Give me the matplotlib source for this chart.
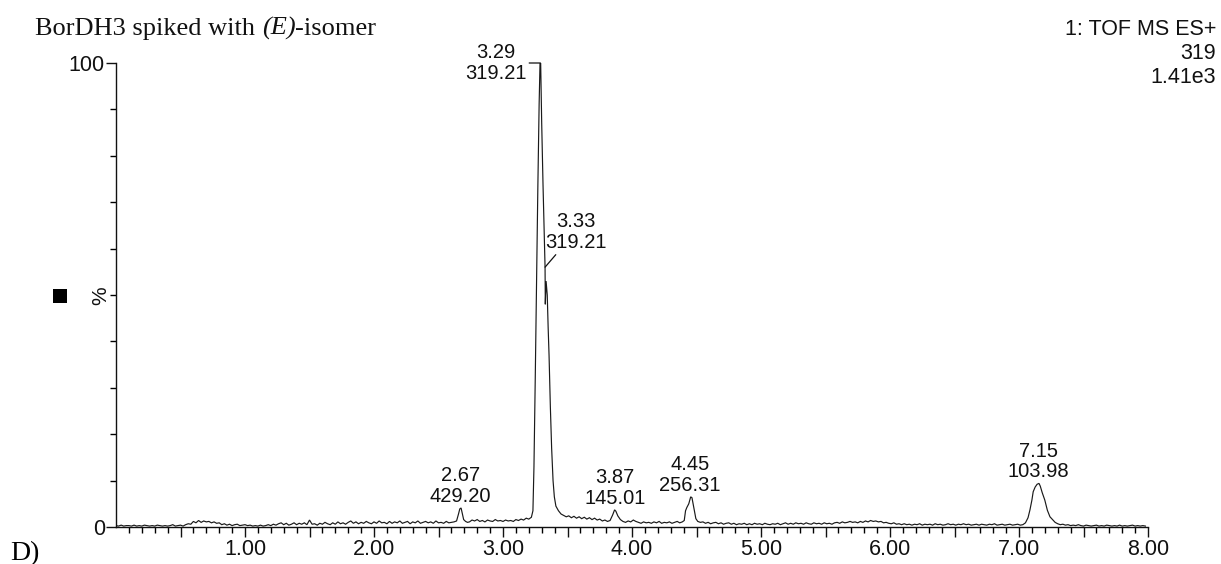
import numpy as np
import matplotlib
matplotlib.use('Agg')
import matplotlib.pyplot as plt
from matplotlib.ticker import FixedLocator, FixedFormatter, NullFormatter
from matplotlib.patches import Rectangle

plt.rcParams['font.family'] = ['Liberation Sans', 'DejaVu Sans']

# ---------------- data (retention time in min, relative intensity in %) -------------
base_A_start = 0.00
base_A = [0.3, 0.2, 0.4, 0.2, 0.3, 0.3, 0.2, 0.4, 0.2, 0.3,
          0.2, 0.4, 0.3, 0.2, 0.3, 0.2, 0.4, 0.3, 0.2, 0.3,
          0.2, 0.3, 0.5, 0.2, 0.3, 0.4, 0.2, 0.5, 0.7, 0.6,
          1.2, 0.9, 1.4, 1.0, 1.3, 1.1, 1.2, 0.9, 1.1, 0.8,
          0.9, 0.5, 0.7, 0.4, 0.6, 0.3, 0.5, 0.6, 0.3, 0.4,
          0.5, 0.3, 0.4, 0.2, 0.3, 0.2, 0.4, 0.2, 0.3, 0.5,
          0.3, 0.6, 0.4, 0.7, 0.9, 0.5, 0.8, 0.4, 0.6, 0.9,
          0.5, 0.8, 0.6, 0.9, 0.5, 1.5, 0.6, 0.7, 0.4, 0.8,
          0.6, 1.0, 0.7, 0.5, 0.9, 0.6, 1.1, 0.7, 0.9, 0.6,
          1.0, 1.3, 0.8, 1.1, 0.7, 1.0, 0.8, 1.2, 0.9, 0.7,
          1.1, 0.8, 1.3, 0.9, 1.0, 0.7, 1.2, 0.8, 1.1, 0.9,
          1.3, 0.8, 1.0, 1.2, 0.7, 1.1, 0.9, 1.3, 0.8, 1.0,
          1.2, 0.9, 1.1, 0.8, 1.3, 0.9, 1.0, 0.8, 1.2, 0.9,
          1.0, 1.1]
base_B_start = 2.74
base_B = [1.1, 1.5, 1.3, 1.6, 1.2, 1.4, 1.1, 1.5, 1.3, 1.2, 1.6, 1.3, 1.4,
          1.2, 1.5, 1.3, 1.4, 1.2, 1.6, 1.4, 1.7, 1.5, 1.9, 1.7, 2.1]
base_C_start = 3.47
base_C = [2.5, 2.2, 2.4, 2.0, 2.3, 1.9, 2.2, 1.8, 2.1, 1.7, 2.0, 1.6, 1.9,
          1.5, 1.7, 1.3, 1.5, 1.2, 1.4]
base_D_start = 3.93
base_D = [1.2, 1.0, 1.3, 1.1, 1.5, 1.2, 1.0, 0.8, 1.1, 0.9, 1.0, 0.8,
          1.1, 0.9, 1.2, 0.8, 1.0, 0.9, 1.1, 0.8, 1.0, 1.2, 0.9, 1.1]
base_E_start = 4.51
base_E = [1.2, 1.0, 1.1, 0.8, 1.0, 0.7, 0.9, 1.0, 0.7, 0.9,
          0.6, 0.8, 0.9, 0.6, 0.8, 0.5, 0.7, 0.6, 0.8, 0.5,
          0.7, 0.5, 0.8, 0.6, 0.7, 0.5, 0.8, 0.6, 0.5, 0.7,
          0.6, 0.8, 0.5, 0.7, 0.9, 0.6, 0.8, 0.6, 0.9, 0.7,
          0.8, 0.6, 0.9, 0.7, 0.6, 0.9, 0.7, 0.8, 0.6, 0.9,
          0.7, 0.8, 0.6, 0.9, 1.0, 0.8, 1.1, 0.9, 1.0, 1.2,
          1.0, 1.1, 0.9, 1.2, 1.0, 1.3, 1.1, 1.4, 1.2, 1.3,
          1.1, 1.2, 0.9, 1.0, 0.8, 0.7, 0.9, 0.6, 0.7, 0.5,
          0.7, 0.5, 0.6, 0.4, 0.6, 0.5, 0.7, 0.4, 0.6, 0.5,
          0.6, 0.4, 0.7, 0.5, 0.6, 0.4, 0.5, 0.7, 0.5, 0.6,
          0.4, 0.6, 0.5, 0.7, 0.5, 0.6, 0.4, 0.5, 0.6, 0.4,
          0.6, 0.5, 0.4, 0.6, 0.5, 0.7, 0.4, 0.5, 0.6, 0.4,
          0.5, 0.6, 0.4, 0.5, 0.6, 0.4, 0.5]
base_F_start = 7.30
base_F = [0.7, 0.5, 0.6, 0.4, 0.5, 0.3, 0.4, 0.3, 0.5, 0.3,
          0.2, 0.4, 0.3, 0.2, 0.3, 0.4, 0.2, 0.3, 0.2, 0.4,
          0.3, 0.2, 0.3, 0.2, 0.4, 0.2, 0.3, 0.2, 0.3, 0.4,
          0.2, 0.3, 0.2, 0.3, 0.2]
base_step = 0.02

# peaks, sampled more finely
pk267_t = [2.64, 2.655, 2.665, 2.675, 2.685, 2.695, 2.71, 2.725]
pk267_v = [1.3, 2.8, 3.9, 4.1, 2.8, 1.6, 1.2, 1.0]
pk329_t = [3.232, 3.24, 3.25, 3.26, 3.27, 3.28, 3.287, 3.292, 3.30, 3.31, 3.32,
           3.326, 3.328, 3.334, 3.343, 3.35, 3.357, 3.367, 3.377, 3.388, 3.398,
           3.41, 3.43, 3.45]
pk329_v = [3.5, 13, 32, 53, 73, 91, 100, 100, 87, 74, 63,
           56, 48, 53, 50, 43, 37, 26, 17, 10, 6.5,
           4.5, 3.5, 2.8]
pk387_t = [3.85, 3.865, 3.875, 3.89, 3.91]
pk387_v = [2.6, 3.7, 3.4, 2.4, 1.6]
pk445_t = [4.405, 4.415, 4.425, 4.44, 4.455, 4.465, 4.48, 4.495]
pk445_v = [1.4, 3.5, 4.2, 5.0, 6.5, 6.3, 4.0, 1.8]
pk715_t = [7.05, 7.07, 7.085, 7.10, 7.11, 7.125, 7.14, 7.155, 7.165, 7.18,
           7.20, 7.22, 7.24, 7.26, 7.28]
pk715_v = [0.9, 2.0, 3.7, 5.8, 7.6, 8.6, 9.2, 9.4, 8.8, 7.4,
           5.8, 3.6, 2.2, 1.6, 1.0]

peak_rt = ['2.67', '3.87', '4.45', '7.15']
peak_mz = ['429.20', '145.01', '256.31', '103.98']
main_rt, main_mz = '3.29', '319.21'
shoulder_rt, shoulder_mz = '3.33', '319.21'
shoulder_pos = 3.326

x_major = [0.5, 1.0, 1.5, 2.0, 2.5, 3.0, 3.5, 4.0, 4.5, 5.0, 5.5, 6.0, 6.5, 7.0, 7.5, 8.0]
x_labels = ['', '1.00', '', '2.00', '', '3.00', '', '4.00', '', '5.00', '', '6.00', '', '7.00', '', '8.00']
y_major = [0, 100]
y_labels = ['0', '100']

title_parts = [('BorDH3 spiked with ', 'normal'), ('(E)', 'italic'), ('-isomer', 'normal')]
panel = 'D)'
info_lines = ['1: TOF MS ES+', '319', '1.41e3']


def grid(start, vals):
    return list(np.round(start + base_step * np.arange(len(vals)), 3))


t_parts = [grid(base_A_start, base_A), pk267_t, grid(base_B_start, base_B), pk329_t,
           grid(base_C_start, base_C), pk387_t, grid(base_D_start, base_D), pk445_t,
           grid(base_E_start, base_E), pk715_t, grid(base_F_start, base_F)]
v_parts = [base_A, pk267_v, base_B, pk329_v, base_C, pk387_v, base_D, pk445_v,
           base_E, pk715_v, base_F]
t = np.concatenate([np.asarray(p, float) for p in t_parts])
y = np.concatenate([np.asarray(p, float) for p in v_parts])

# ---------------- figure ----------------
W, H = 1221, 564
fig = plt.figure(figsize=(W / 100, H / 100), dpi=100)
ax = fig.add_axes([116 / W, 1 - 527 / H, 1032 / W, 464 / H])

ax.plot(t, y, color='#1a1a1a', lw=0.85, solid_joinstyle='miter')

ax.set_xlim(0, 8)
ax.set_ylim(0, 100)
for s in ('top', 'right'):
    ax.spines[s].set_visible(False)
for s in ('left', 'bottom'):
    ax.spines[s].set_linewidth(1.0)
    ax.spines[s].set_color('#111111')

ax.xaxis.set_major_locator(FixedLocator(x_major))
ax.xaxis.set_major_formatter(FixedFormatter(x_labels))
ax.xaxis.set_minor_locator(FixedLocator([round(0.1 * i, 1) for i in range(1, 80) if i % 5 != 0]))
ax.xaxis.set_minor_formatter(NullFormatter())
ax.yaxis.set_major_locator(FixedLocator(y_major))
ax.yaxis.set_major_formatter(FixedFormatter(y_labels))
ax.yaxis.set_minor_locator(FixedLocator(list(range(10, 100, 10))))
ax.yaxis.set_minor_formatter(NullFormatter())

ax.tick_params(axis='x', which='major', direction='out', length=7.5, width=1.0, pad=1, labelsize=15.5, colors='#111111')
ax.tick_params(axis='x', which='minor', direction='out', length=4.2, width=1.0)
ax.tick_params(axis='y', which='major', direction='out', length=7.5, width=1.0, pad=0.5, labelsize=15.5, colors='#111111')
ax.tick_params(axis='y', which='minor', direction='out', length=4.0, width=1.0)

# peak labels
lab_fs = 14.5
for rt, mz in zip(peak_rt, peak_mz):
    r = float(rt)
    m = (t > r - 0.03) & (t < r + 0.03)
    apex = y[m].max()
    ax.annotate(f'{rt}\n{mz}', xy=(r, apex), xytext=(0, 2), textcoords='offset pixels',
                ha='center', va='bottom', fontsize=lab_fs, linespacing=1.1, color='#111111')

r = float(main_rt)
m = (t > r - 0.03) & (t < r + 0.03)
ax.annotate(f'{main_rt}\n{main_mz}', xy=(r, y[m].max()), xytext=(-14, 0), textcoords='offset pixels',
            ha='right', va='center', multialignment='center', fontsize=lab_fs, linespacing=1.1,
            color='#111111',
            arrowprops=dict(arrowstyle='-', shrinkA=0, shrinkB=0, lw=0.9, color='#111111', relpos=(1, 0.5)),
            annotation_clip=False)

ax.annotate(f'{shoulder_rt}\n{shoulder_mz}', xy=(shoulder_pos, np.interp(shoulder_pos, t, y)),
            xytext=(31, 35), textcoords='offset pixels',
            ha='center', va='center', fontsize=lab_fs, linespacing=1.1, color='#111111',
            arrowprops=dict(arrowstyle='-', shrinkA=0, shrinkB=0, lw=0.9, color='#111111', relpos=(0.22, 0.02)))

# y label and marker
fig.text(101 / W, 1 - 296 / H, '%', rotation=90, ha='center', va='center', fontsize=15, color='#111111')
fig.add_artist(Rectangle((53 / W, 1 - 303 / H), 14 / W, 14 / H, transform=fig.transFigure,
                         facecolor='black', edgecolor='none'))

# title in pieces (italic isomer descriptor)
fig.canvas.draw()
renderer = fig.canvas.get_renderer()
title_fs = 19
x_px = 35.0
space_px = 0.25 * title_fs * 100 / 72
for txt, style in title_parts:
    core = txt.strip()
    tt = fig.text(x_px / W, 1 - 35 / H, core, family='Liberation Serif', style=style,
                  fontsize=title_fs, va='baseline', ha='left', color='#111111')
    bb = tt.get_window_extent(renderer)
    x_px = bb.x1 + (space_px if txt.endswith(' ') else 0.0)

fig.text(10 / W, 1 - 560 / H, panel, family='Liberation Serif', fontsize=20, va='baseline', ha='left')
for i, line in enumerate(info_lines):
    fig.text(1216 / W, 1 - (35 + 24 * i) / H, line, ha='right', va='baseline', fontsize=15.5, color='#111111')

fig.savefig('out.png', dpi=100)
